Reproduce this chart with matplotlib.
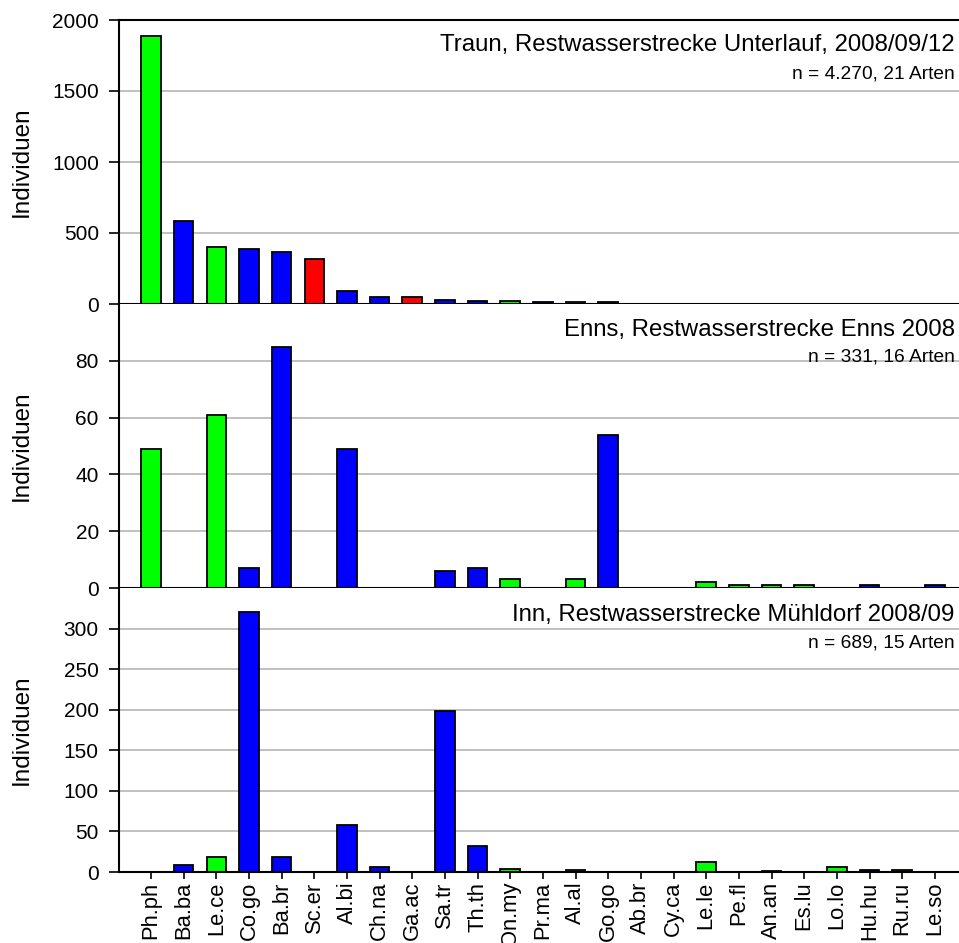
import matplotlib
matplotlib.use("Agg")
import matplotlib.pyplot as plt
import numpy as np

plt.rcParams['font.family'] = ['Liberation Sans', 'DejaVu Sans']

species = ["Ph.ph", "Ba.ba", "Le.ce", "Co.go", "Ba.br", "Sc.er", "Al.bi", "Ch.na",
           "Ga.ac", "Sa.tr", "Th.th", "On.my", "Pr.ma", "Al.al", "Go.go", "Ab.br",
           "Cy.ca", "Le.le", "Pe.fl", "An.an", "Es.lu", "Lo.lo", "Hu.hu", "Ru.ru", "Le.so"]
guild = ["g", "b", "g", "b", "b", "r", "b", "b",
         "r", "b", "b", "g", "b", "g", "b", "b",
         "g", "g", "g", "g", "g", "g", "b", "g", "b"]

traun = [1885, 585, 400, 390, 365, 320, 94, 52,
         52, 30, 23, 19, 16, 14, 14, 0,
         0, 3, 0, 1, 1, 2, 2, 2, 0]
enns = [49, 0, 61, 7, 85, 0, 49, 0,
        0, 6, 7, 3, 0, 3, 54, 0,
        0, 2, 1, 1, 1, 0, 1, 0, 1]
inn = [0, 9, 19, 320, 18, 0, 58, 6,
       0, 198, 32, 4, 0, 2, 0, 0,
       0, 12, 0, 1, 0, 6, 2, 2, 0]

titles = ["Traun, Restwasserstrecke Unterlauf, 2008/09/12",
          "Enns, Restwasserstrecke Enns 2008",
          "Inn, Restwasserstrecke Mühldorf 2008/09"]
subtitles = ["n = 4.270, 21 Arten", "n = 331, 16 Arten", "n = 689, 15 Arten"]
ylims = [2000, 100, 350]
yticks = [[0, 500, 1000, 1500, 2000], [0, 20, 40, 60, 80], [0, 50, 100, 150, 200, 250, 300]]

cmap = {"g": "#00FF00", "b": "#0000FF", "r": "#FF0000"}
colors = [cmap[c] for c in guild]

W, H = 959, 943
fig = plt.figure(figsize=(W / 100, H / 100), dpi=100)
left = 119 / W
panel_px = [(20, 304), (304, 588), (588, 872)]
title_y = [(0.912, 0.81), (0.908, 0.813), (0.905, 0.806)]
x = np.arange(len(species))

for i, (data, ttl, sub, ymax, yt) in enumerate(zip([traun, enns, inn], titles, subtitles, ylims, yticks)):
    top, bot = panel_px[i]
    ax = fig.add_axes([left, 1 - bot / H, 1 - left, (bot - top) / H])
    for t in yt[1:]:
        ax.axhline(t, color="#c0c0c0", lw=1.4, zorder=0)
    ax.bar(x, data, width=0.6, color=colors, edgecolor="black", linewidth=1.3, zorder=2)
    ax.set_xlim(-0.98, 24.74)
    ax.set_ylim(0, ymax)
    ax.set_yticks(yt)
    ax.set_yticklabels([str(t) for t in yt], fontsize=15)
    ax.set_xticks(x)
    if i == 2:
        ax.set_xticklabels(species, rotation=90, fontsize=15.8, va="top", ha="center")
    else:
        ax.set_xticklabels([])
    ax.tick_params(axis="y", direction="out", length=7.5, width=1.2, pad=7)
    ax.tick_params(axis="x", direction="out", length=5, width=1.2, pad=2)
    ax.spines["right"].set_visible(False)
    ax.spines["top"].set_visible(i == 0)
    for s in ["left", "bottom", "top"]:
        ax.spines[s].set_linewidth(1.5)
    ax.set_ylabel("Individuen", fontsize=17.5)
    ax.yaxis.set_label_coords(-0.1025, 0.5)
    ax.text(0.995, title_y[i][0], ttl, transform=ax.transAxes, ha="right", va="center", fontsize=17.3)
    ax.text(0.995, title_y[i][1], sub, transform=ax.transAxes, ha="right", va="center", fontsize=13.8)

fig.savefig("out.png", dpi=100)
